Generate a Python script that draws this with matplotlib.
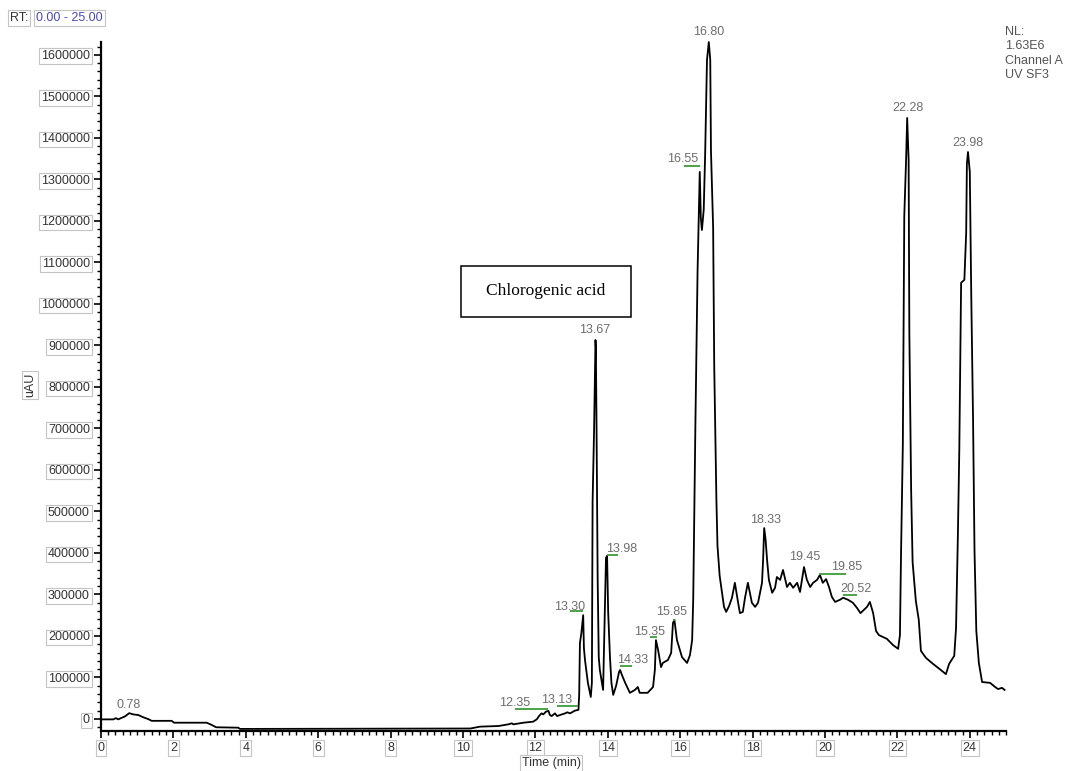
import numpy as np
import matplotlib
matplotlib.use("Agg")
import matplotlib.pyplot as plt
from matplotlib.patches import Rectangle
from matplotlib.ticker import MultipleLocator, FuncFormatter

plt.rcParams["font.family"] = ["Liberation Sans", "DejaVu Sans"]

# chromatogram trace (retention time in min, signal in uAU)
rt_min = [
    0.00, 0.34, 0.41, 0.48, 0.55, 0.66, 0.78, 0.89, 1.03, 1.17,
    1.31, 1.40, 1.95, 2.02, 2.92, 3.06, 3.18, 3.79, 3.84, 10.20,
    10.47, 10.98, 11.25, 11.35, 11.39, 11.67, 11.94, 12.04, 12.10, 12.17,
    12.22, 12.29, 12.36, 12.40, 12.45, 12.54, 12.60, 12.68, 12.82, 12.88,
    12.96, 13.09, 13.19, 13.21, 13.23, 13.27, 13.32, 13.34, 13.37, 13.45,
    13.53, 13.56, 13.58, 13.62, 13.66, 13.67, 13.69, 13.72, 13.75, 13.78,
    13.87, 13.92, 13.95, 13.98, 14.01, 14.06, 14.10, 14.15, 14.23, 14.31,
    14.34, 14.39, 14.48, 14.61, 14.75, 14.83, 14.88, 15.10, 15.25, 15.30,
    15.33, 15.36, 15.39, 15.47, 15.52, 15.66, 15.75, 15.80, 15.84, 15.91,
    16.05, 16.19, 16.27, 16.33, 16.36, 16.42, 16.48, 16.54, 16.57, 16.60,
    16.65, 16.69, 16.74, 16.79, 16.83, 16.85, 16.91, 16.94, 17.00, 17.03,
    17.09, 17.15, 17.21, 17.27, 17.35, 17.43, 17.51, 17.60, 17.65, 17.73,
    17.79, 17.87, 17.98, 18.07, 18.15, 18.26, 18.29, 18.32, 18.36, 18.40,
    18.45, 18.54, 18.62, 18.67, 18.76, 18.84, 18.95, 19.03, 19.12, 19.23,
    19.31, 19.42, 19.50, 19.59, 19.67, 19.78, 19.86, 19.94, 20.03, 20.11,
    20.19, 20.28, 20.41, 20.50, 20.64, 20.77, 20.88, 20.98, 21.16, 21.24,
    21.33, 21.41, 21.49, 21.71, 21.88, 22.02, 22.07, 22.10, 22.15, 22.19,
    22.24, 22.27, 22.31, 22.33, 22.38, 22.42, 22.51, 22.59, 22.65, 22.79,
    22.98, 23.20, 23.34, 23.43, 23.57, 23.62, 23.67, 23.71, 23.76, 23.85,
    23.90, 23.92, 23.95, 24.00, 24.04, 24.09, 24.13, 24.18, 24.25, 24.34,
    24.56, 24.70, 24.78, 24.89, 24.96,
]
signal_uau = [
    -1000, -1000, 2000, -1000, 2000, 6000, 14000, 11000, 9500, 4000,
    -500, -4500, -4500, -9000, -9000, -14500, -20000, -21000, -24000, -23000,
    -18500, -17000, -13000, -10500, -13000, -9000, -6500, -700, 7000, 13500,
    11000, 17500, 19500, 9500, 7000, 13500, 7000, 9500, 13500, 16000,
    13500, 20000, 22000, 60000, 183000, 207000, 250000, 171000, 142000, 87000,
    53000, 87000, 523000, 692000, 913000, 896000, 692000, 335000, 149000, 118000,
    70000, 263000, 388000, 393000, 258000, 149000, 87000, 58000, 80000, 113000,
    118000, 106000, 87000, 63000, 70000, 77000, 63000, 63000, 77000, 118000,
    190000, 178000, 166000, 125000, 135000, 142000, 159000, 231000, 239000, 190000,
    149000, 135000, 154000, 190000, 289000, 711000, 1080000, 1318000, 1207000, 1178000,
    1227000, 1364000, 1588000, 1631000, 1588000, 1369000, 1183000, 851000, 528000, 417000,
    345000, 308000, 270000, 258000, 272000, 292000, 328000, 280000, 255000, 258000,
    292000, 328000, 280000, 270000, 280000, 328000, 383000, 460000, 431000, 383000,
    335000, 304000, 316000, 342000, 335000, 359000, 318000, 328000, 316000, 328000,
    306000, 366000, 335000, 318000, 328000, 335000, 347000, 328000, 337000, 318000,
    294000, 282000, 287000, 292000, 287000, 280000, 268000, 255000, 270000, 282000,
    255000, 212000, 202000, 193000, 178000, 169000, 202000, 395000, 660000, 1212000,
    1347000, 1448000, 1347000, 930000, 549000, 378000, 284000, 239000, 164000, 147000,
    133000, 118000, 108000, 133000, 152000, 219000, 439000, 648000, 1051000, 1058000,
    1171000, 1338000, 1366000, 1318000, 1022000, 721000, 405000, 212000, 135000, 89000,
    87000, 77000, 72000, 75000, 70000,
]
assert len(rt_min) == len(signal_uau)

peak_labels = ["0.78", "12.35", "13.13", "13.30", "13.67", "13.98", "14.33",
               "15.35", "15.85", "16.55", "16.80", "18.33", "19.45", "19.85",
               "20.52", "22.28", "23.98"]

# green integration marks (start, end in min; level in uAU)
mark_start = [11.44, 12.60, 12.96, 13.98, 14.34, 15.17, 15.80, 16.11, 19.83, 20.50]
mark_end = [12.35, 13.18, 13.32, 14.28, 14.67, 15.36, 15.86, 16.55, 20.58, 20.88]
mark_level = [24000, 31000, 260000, 395000, 128000, 198000, 239000, 1333000, 349000, 299000]

W, H = 1067, 771


def fx(px):
    return px / W


def fy(py):
    return 1 - py / H


fig = plt.figure(figsize=(W / 100, H / 100), dpi=100)
ax = fig.add_axes([fx(101), fy(731), (1006 - 101) / W, (731 - 42) / H])

rt = np.array(rt_min)
sig = np.array(signal_uau)
ax.plot(rt, sig, color="black", lw=1.3, clip_on=False, zorder=3)
ax.hlines(mark_level, mark_start, mark_end, color="#3c9c3c", lw=1.3, zorder=4)

ax.set_xlim(0, 25)
ax.set_ylim(-29000, 1631000)
for s in ["top", "right"]:
    ax.spines[s].set_visible(False)
for s in ["left", "bottom"]:
    ax.spines[s].set_linewidth(1.6)

ax.xaxis.set_major_locator(MultipleLocator(2))
ax.xaxis.set_minor_locator(MultipleLocator(0.2))
ax.yaxis.set_major_locator(MultipleLocator(100000))
ax.yaxis.set_minor_locator(MultipleLocator(20000))
ax.yaxis.set_major_formatter(FuncFormatter(lambda v, p: f"{int(round(v))}"))
ax.tick_params(which="major", length=5, width=1.2, labelsize=9,
               labelcolor="#333333", pad=3)
ax.tick_params(which="minor", length=3, width=1.0)

box = dict(boxstyle="square,pad=0.15", fc="white", ec="#c4c4c4", lw=0.8)
for lbl in ax.get_yticklabels() + ax.get_xticklabels():
    lbl.set_bbox(box)

# peak label offsets in pixels (dx, dy) from the apex
label_offsets = {
    "0.78": (-1, 8), "12.35": (-33, 8), "13.13": (-20, 10), "13.30": (-13, 8),
    "13.67": (-1, 10), "13.98": (15, 7), "14.33": (13, 10), "15.35": (-7, 8),
    "15.85": (-3, 8), "16.55": (-17, 13), "16.80": (0, 10), "18.33": (1.5, 8),
    "19.45": (0, 10), "19.85": (27, 8), "20.52": (12, 9), "22.28": (0, 10),
    "23.98": (-1, 9),
}
for lab in peak_labels:
    t = float(lab)
    near = np.abs(rt - t) <= 0.035
    h = sig[near].max() if near.any() else np.interp(t, rt, sig)
    dx, dy = label_offsets[lab]
    ax.annotate(lab, (t, h), xytext=(dx, dy), textcoords="offset pixels",
                ha="center", va="center", fontsize=9, color="#6e6e6e",
                annotation_clip=False)

# header / axis texts
fig.text(fx(10), fy(18), "RT:", ha="left", va="center", fontsize=9,
         color="#333333", bbox=box)
fig.text(fx(36), fy(18), "0.00 - 25.00", ha="left", va="center", fontsize=9,
         color="#4848b8", bbox=box)
fig.text(fx(1005), fy(26), "NL:\n1.63E6\nChannel A\nUV SF3", ha="left", va="top",
         fontsize=9, color="#555555", linespacing=1.25)
fig.text(fx(30), fy(385), "uAU", rotation=90, ha="center", va="center",
         fontsize=9, color="#333333", bbox=box)
fig.text(fx(551), fy(763), "Time (min)", ha="center", va="center",
         fontsize=9, color="#333333", bbox=box)

fig.patches.append(Rectangle((fx(461), fy(317)), (631 - 461) / W, (317 - 266) / H,
                             transform=fig.transFigure, fill=False,
                             ec="black", lw=1.1))
fig.text(fx(546), fy(291), "Chlorogenic acid", ha="center", va="center",
         family="Liberation Serif", fontsize=12.5, color="black")

fig.savefig("out.png", dpi=100)
